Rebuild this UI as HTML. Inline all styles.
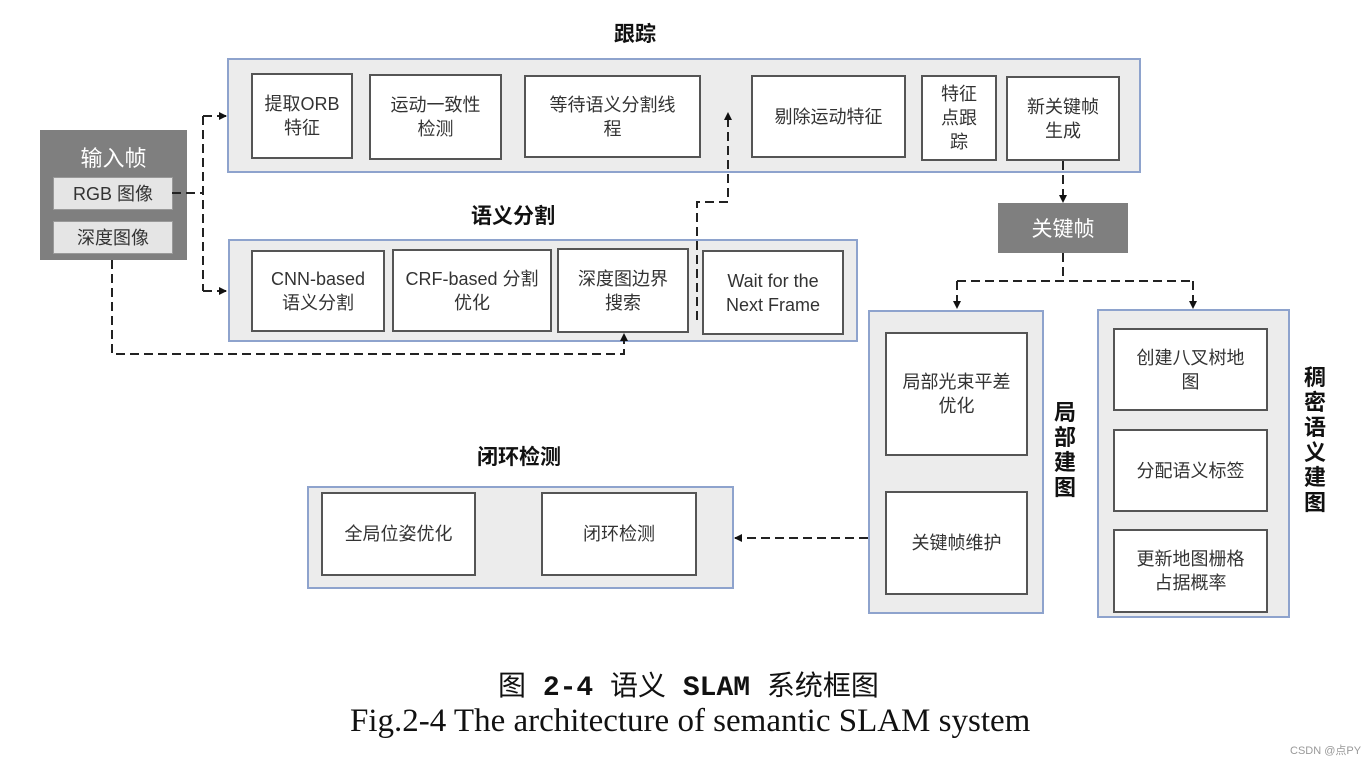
<!DOCTYPE html>
<html><head><meta charset="utf-8"><style>
body{margin:0;width:1370px;height:765px;background:#fff;position:relative;overflow:hidden;font-family:"Liberation Sans","Noto Sans CJK SC",sans-serif;}
.a{position:absolute;box-sizing:border-box;}
.c{background:#ececec;border:2px solid #8ea3cd;}
.b{background:#fff;border:2px solid #555;display:flex;align-items:center;justify-content:center;text-align:center;font-size:18px;line-height:24px;color:#333;}
.t{font-weight:bold;font-size:21px;color:#111;}
.g{background:#7f7f7f;}
.v{font-weight:bold;font-size:22px;line-height:25px;width:26px;text-align:center;color:#111;}
</style></head><body>
<div class="a t" style="left:614px;top:18px;">跟踪</div>
<div class="a c" style="left:227px;top:58px;width:914px;height:115px;"></div>
<div class="a b" style="left:251px;top:73px;width:102px;height:86px;">提取ORB<br>特征</div>
<div class="a b" style="left:369px;top:74px;width:133px;height:86px;">运动一致性<br>检测</div>
<div class="a b" style="left:524px;top:75px;width:177px;height:83px;">等待语义分割线<br>程</div>
<div class="a b" style="left:751px;top:75px;width:155px;height:83px;">剔除运动特征</div>
<div class="a b" style="left:921px;top:75px;width:76px;height:86px;">特征<br>点跟<br>踪</div>
<div class="a b" style="left:1006px;top:76px;width:114px;height:85px;">新关键帧<br>生成</div>

<div class="a g" style="left:40px;top:130px;width:147px;height:130px;"></div>
<div class="a" style="left:40px;top:141px;width:147px;text-align:center;color:#fff;font-size:22px;">输入帧</div>
<div class="a b" style="left:53px;top:177px;width:120px;height:33px;background:#e5e5e5;border:1px solid #999;">RGB 图像</div>
<div class="a b" style="left:53px;top:221px;width:120px;height:33px;background:#e5e5e5;border:1px solid #999;">深度图像</div>

<div class="a t" style="left:471px;top:200px;">语义分割</div>
<div class="a c" style="left:228px;top:239px;width:630px;height:103px;"></div>
<div class="a b" style="left:251px;top:250px;width:134px;height:82px;">CNN-based<br>语义分割</div>
<div class="a b" style="left:392px;top:249px;width:160px;height:83px;">CRF-based 分割<br>优化</div>
<div class="a b" style="left:557px;top:248px;width:132px;height:85px;">深度图边界<br>搜索</div>
<div class="a b" style="left:702px;top:250px;width:142px;height:85px;">Wait for the<br>Next Frame</div>

<div class="a g" style="left:998px;top:203px;width:130px;height:50px;color:#fff;font-size:21px;display:flex;align-items:center;justify-content:center;">关键帧</div>

<div class="a c" style="left:868px;top:310px;width:176px;height:304px;"></div>
<div class="a b" style="left:885px;top:332px;width:143px;height:124px;">局部光束平差<br>优化</div>
<div class="a b" style="left:885px;top:491px;width:143px;height:104px;">关键帧维护</div>
<div class="a v" style="left:1052px;top:400px;">局<br>部<br>建<br>图</div>

<div class="a c" style="left:1097px;top:309px;width:193px;height:309px;"></div>
<div class="a b" style="left:1113px;top:328px;width:155px;height:83px;">创建八叉树地<br>图</div>
<div class="a b" style="left:1113px;top:429px;width:155px;height:83px;">分配语义标签</div>
<div class="a b" style="left:1113px;top:529px;width:155px;height:84px;">更新地图栅格<br>占据概率</div>
<div class="a v" style="left:1302px;top:365px;">稠<br>密<br>语<br>义<br>建<br>图</div>

<div class="a t" style="left:477px;top:441px;">闭环检测</div>
<div class="a c" style="left:307px;top:486px;width:427px;height:103px;"></div>
<div class="a b" style="left:321px;top:492px;width:155px;height:84px;">全局位姿优化</div>
<div class="a b" style="left:541px;top:492px;width:156px;height:84px;">闭环检测</div>

<svg class="a" style="left:0;top:0" width="1370" height="765">
<defs><marker id="m" markerWidth="8" markerHeight="8" refX="7" refY="4" orient="auto" markerUnits="userSpaceOnUse"><path d="M0,0 L8,4 L0,8z" fill="#111"/></marker></defs>
<g stroke="#222" stroke-width="2" stroke-dasharray="9,5" fill="none">
<path d="M172,193 H203"/>
<path d="M203,116 V291"/>
<path d="M203,116 H226" marker-end="url(#m)"/>
<path d="M203,291 H226" marker-end="url(#m)"/>
<path d="M112,260 V354 H624 V334" marker-end="url(#m)"/>
<path d="M697,320 V202 H728 V113" marker-end="url(#m)"/>
<path d="M1063,161 V202" marker-end="url(#m)"/>
<path d="M1063,253 V281"/>
<path d="M957,281 H1193"/>
<path d="M957,281 V308" marker-end="url(#m)"/>
<path d="M1193,281 V308" marker-end="url(#m)"/>
<path d="M868,538 H735" marker-end="url(#m)"/>
</g></svg>

<div class="a" style="left:498px;top:664px;font-family:'Liberation Mono','Noto Sans CJK SC',monospace;font-size:28px;color:#111;white-space:nowrap;">图 <b>2-4</b> 语义 <b>SLAM</b> 系统框图</div>
<div class="a" style="left:350px;top:703px;font-family:'Liberation Serif',serif;font-size:33px;color:#111;white-space:nowrap;">Fig.2-4 The architecture of semantic SLAM system</div>
<div class="a" style="left:1290px;top:742px;font-size:11px;color:#999;">CSDN @点PY</div>
</body></html>
